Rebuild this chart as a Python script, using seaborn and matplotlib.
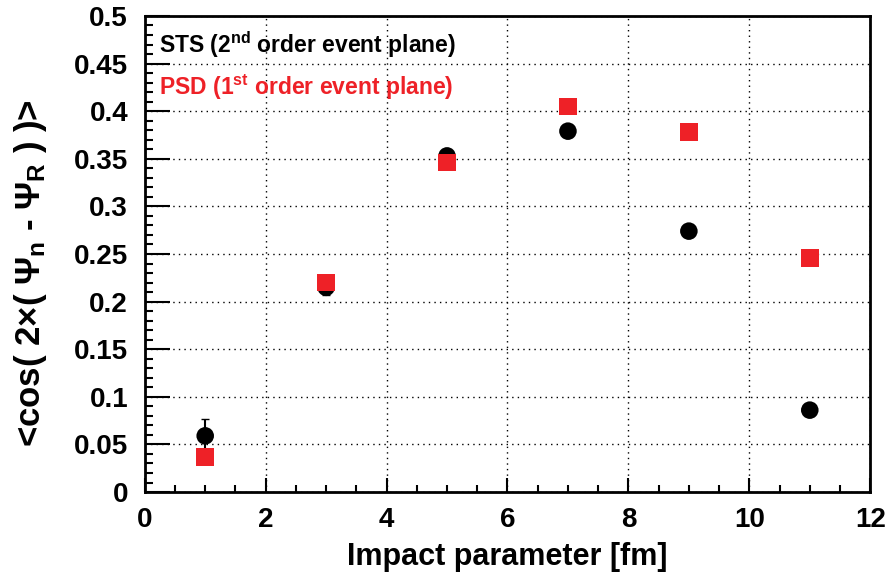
import matplotlib
matplotlib.use("Agg")
import matplotlib.pyplot as plt
from matplotlib.ticker import MultipleLocator
import seaborn as sns
import pandas as pd
import numpy as np

# impact parameter bins [fm]
impact = [1, 3, 5, 7, 9, 11]
# STS, 2nd order event plane
sts_res = [0.059, 0.215, 0.353, 0.379, 0.274, 0.086]
sts_err = [0.018, 0.008, 0.003, 0.002, 0.002, 0.002]
# PSD, 1st order event plane
psd_res = [0.037, 0.220, 0.346, 0.405, 0.378, 0.246]
psd_err = [0.004, 0.006, 0.002, 0.002, 0.002, 0.002]
ytick_labels = ['0', '0.05', '0.1', '0.15', '0.2', '0.25', '0.3', '0.35', '0.4', '0.45', '0.5']

df = pd.DataFrame({
    'b': impact * 2,
    'res': sts_res + psd_res,
    'det': ['STS'] * 6 + ['PSD'] * 6,
})

sns.set_style("ticks")
plt.rcParams['font.family'] = ['Liberation Sans', 'DejaVu Sans']
plt.rcParams['font.weight'] = 'bold'
plt.rcParams['text.color'] = 'black'
plt.rcParams['axes.labelcolor'] = 'black'
plt.rcParams['xtick.color'] = 'black'
plt.rcParams['ytick.color'] = 'black'
plt.rcParams['mathtext.fontset'] = 'custom'
plt.rcParams['mathtext.rm'] = 'Liberation Sans:bold'
plt.rcParams['mathtext.bf'] = 'Liberation Sans:bold'
plt.rcParams['mathtext.it'] = 'Liberation Sans:bold'

red = '#ee2127'
fig = plt.figure(figsize=(8.88, 5.82), dpi=100)
ax = fig.add_axes([0.163, 0.1546, 0.817, 0.818])

ax.errorbar(impact, psd_res, yerr=psd_err, fmt='none', ecolor='black', elinewidth=1.5, capsize=3, zorder=2)
ax.errorbar(impact, sts_res, yerr=sts_err, fmt='none', ecolor='black', elinewidth=1.5, capsize=3, zorder=2)
sns.scatterplot(data=df, x='b', y='res', hue='det', style='det',
                palette={'STS': 'black', 'PSD': red},
                markers={'STS': 'o', 'PSD': 's'}, s=160, linewidth=0,
                legend=False, ax=ax, zorder=3)

ax.set_xlim(0, 12)
ax.set_ylim(0, 0.5)
ax.xaxis.set_major_locator(MultipleLocator(2))
ax.xaxis.set_minor_locator(MultipleLocator(0.5))
ax.set_yticks(np.arange(0, 0.501, 0.05))
ax.set_yticklabels(ytick_labels)
ax.yaxis.set_minor_locator(MultipleLocator(0.01))

ax.grid(True, which='major', color='black', linestyle=(0, (1, 3)), linewidth=1)
ax.set_axisbelow(True)
for sp in ax.spines.values():
    sp.set_linewidth(2)
    sp.set_color('black')

ax.tick_params(axis='both', which='both', direction='in', width=1.5, colors='black')
ax.tick_params(axis='x', which='major', length=10, pad=11, labelsize=20)
ax.tick_params(axis='x', which='minor', length=5)
ax.tick_params(axis='y', which='major', length=18, pad=12, labelsize=20)
ax.tick_params(axis='y', which='minor', length=6)
for lbl in ax.get_xticklabels() + ax.get_yticklabels():
    lbl.set_fontweight('bold')

ax.set_xlabel('Impact parameter [fm]', fontsize=22, fontweight='bold', labelpad=6)
ax.set_ylabel(r'<cos( 2$\times$( $\Psi_{n}$ - $\Psi_{R}$ ) )>', fontsize=25, fontweight='bold',
              va='center', ha='center')
ax.yaxis.set_label_coords(-0.158, 0.46)

ax.text(0.02, 0.939, r'STS (2$^{nd}$ order event plane)', transform=ax.transAxes,
        fontsize=16.5, fontweight='bold', color='black', va='center')
ax.text(0.02, 0.851, r'PSD (1$^{st}$ order event plane)', transform=ax.transAxes,
        fontsize=16.5, fontweight='bold', color=red, va='center')

fig.savefig('out.png', dpi=100)
